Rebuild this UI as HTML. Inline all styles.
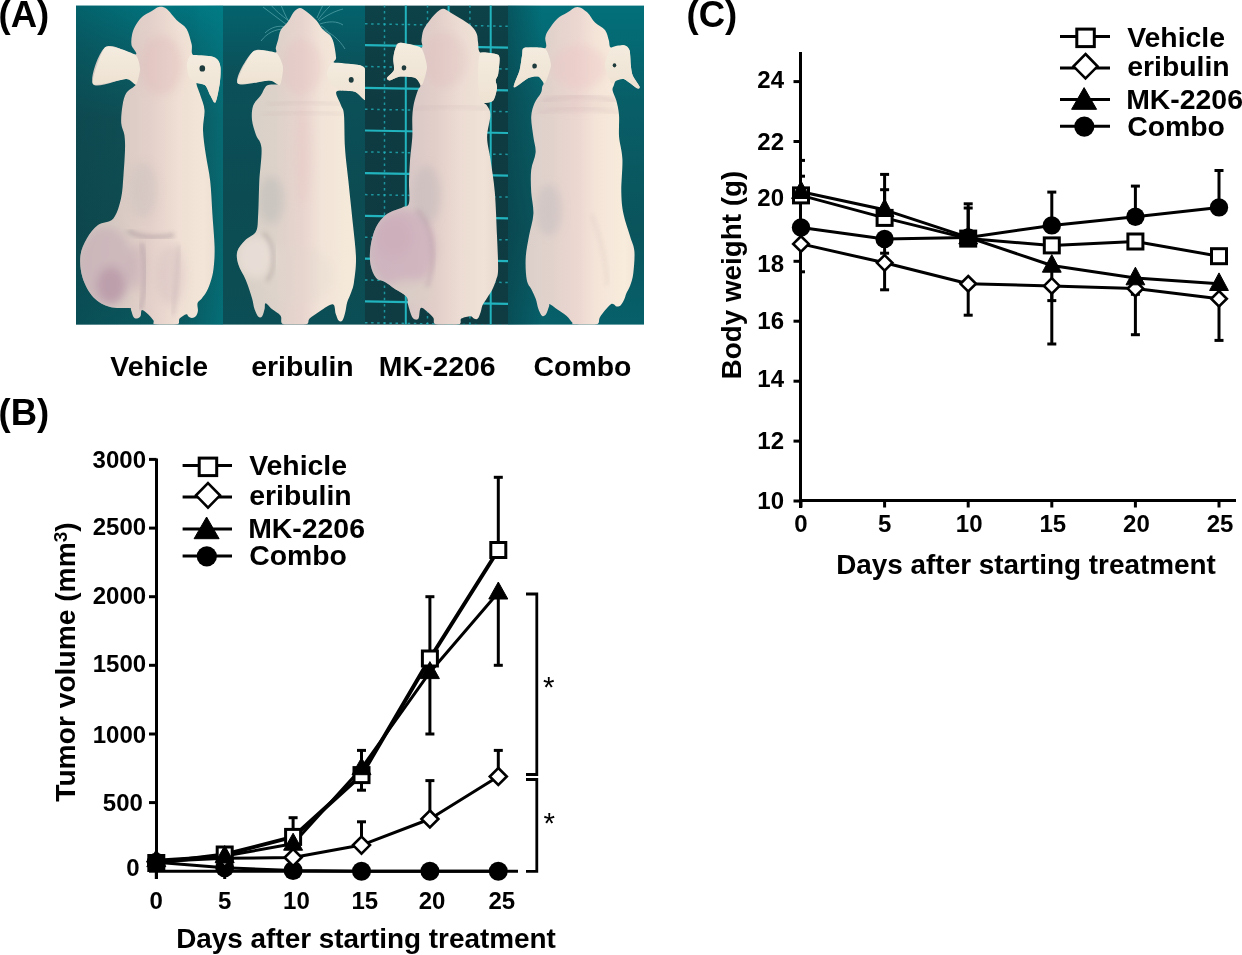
<!DOCTYPE html><html><head><meta charset="utf-8"><style>
html,body{margin:0;padding:0;background:#fff;width:1242px;height:955px;overflow:hidden}svg{display:block}
text{font-family:"Liberation Sans",sans-serif;font-weight:bold;fill:#000}
</style></head><body>
<svg width="1242" height="955" viewBox="0 0 1242 955">
<defs>
<linearGradient id="bg1" x1="0" y1="0" x2="0" y2="1">
 <stop offset="0" stop-color="#007680"/><stop offset="0.12" stop-color="#07656e"/>
 <stop offset="0.35" stop-color="#0f5056"/><stop offset="0.7" stop-color="#0f4d52"/><stop offset="1" stop-color="#09585f"/></linearGradient>
<linearGradient id="hx1" x1="0" y1="0" x2="1" y2="0">
 <stop offset="0" stop-color="#0a3c44" stop-opacity="0.35"/><stop offset="0.6" stop-color="#0a3c44" stop-opacity="0"/>
 <stop offset="0.85" stop-color="#00808a" stop-opacity="0.25"/><stop offset="1" stop-color="#00808a" stop-opacity="0.55"/></linearGradient>
<linearGradient id="bg2" x1="0" y1="0" x2="0" y2="1">
 <stop offset="0" stop-color="#03636d"/><stop offset="0.2" stop-color="#0b515a"/>
 <stop offset="0.6" stop-color="#0c4b52"/><stop offset="1" stop-color="#0c4e55"/></linearGradient>
<linearGradient id="bg3" x1="0" y1="0" x2="0" y2="1">
 <stop offset="0" stop-color="#0c4248"/><stop offset="0.3" stop-color="#0e3b41"/><stop offset="1" stop-color="#0e3c42"/></linearGradient>
<linearGradient id="bg4" x1="0" y1="0" x2="0" y2="1">
 <stop offset="0" stop-color="#02707a"/><stop offset="0.3" stop-color="#085e67"/>
 <stop offset="0.7" stop-color="#0a545c"/><stop offset="1" stop-color="#06606a"/></linearGradient>
<linearGradient id="hx4" x1="0" y1="0" x2="1" y2="0">
 <stop offset="0" stop-color="#0a3c44" stop-opacity="0.5"/><stop offset="0.25" stop-color="#0a3c44" stop-opacity="0"/>
 <stop offset="1" stop-color="#0a3c44" stop-opacity="0"/></linearGradient>
<linearGradient id="skin0" x1="0" y1="0" x2="1" y2="0">
 <stop offset="0" stop-color="#cdc3bd"/><stop offset="0.3" stop-color="#d9cbc4"/><stop offset="0.5" stop-color="#e4d0ca"/><stop offset="0.7" stop-color="#efdfd4"/><stop offset="0.88" stop-color="#f3e6d8"/><stop offset="1" stop-color="#eadbd0"/></linearGradient>
<linearGradient id="skin1" x1="0" y1="0" x2="1" y2="0">
 <stop offset="0" stop-color="#d6d0c6"/><stop offset="0.3" stop-color="#ddd2ca"/><stop offset="0.5" stop-color="#e8d4ce"/><stop offset="0.65" stop-color="#f2e4d8"/><stop offset="0.88" stop-color="#f5eada"/><stop offset="1" stop-color="#ece0d2"/></linearGradient>
<linearGradient id="skin2" x1="0" y1="0" x2="1" y2="0">
 <stop offset="0" stop-color="#cdc3c2"/><stop offset="0.3" stop-color="#d8c8c6"/><stop offset="0.5" stop-color="#e2cec9"/><stop offset="0.7" stop-color="#ecdcd3"/><stop offset="0.88" stop-color="#f0e2d6"/><stop offset="1" stop-color="#e8d8ce"/></linearGradient>
<linearGradient id="skin3" x1="0" y1="0" x2="1" y2="0">
 <stop offset="0" stop-color="#d8cec8"/><stop offset="0.3" stop-color="#e2d2cc"/><stop offset="0.5" stop-color="#ecd6d0"/><stop offset="0.65" stop-color="#f4e4d8"/><stop offset="0.88" stop-color="#f8ecdc"/><stop offset="1" stop-color="#f0e2d6"/></linearGradient>
<filter id="blur1" x="-20%" y="-20%" width="140%" height="140%"><feGaussianBlur stdDeviation="2"/></filter>
<filter id="blur4" x="-20%" y="-20%" width="140%" height="140%"><feGaussianBlur stdDeviation="4"/></filter>
<linearGradient id="ear" x1="0" y1="0" x2="0" y2="1">
 <stop offset="0" stop-color="#f4ecdf"/><stop offset="1" stop-color="#eee2d2"/></linearGradient>
<radialGradient id="tum" cx="0.45" cy="0.55" r="0.55">
 <stop offset="0" stop-color="#c9a7b6"/><stop offset="0.6" stop-color="#d2b6c0"/><stop offset="1" stop-color="#dcc8c8" stop-opacity="0"/></radialGradient>
<radialGradient id="tum2" cx="0.5" cy="0.5" r="0.5">
 <stop offset="0" stop-color="#e8d8d2"/><stop offset="1" stop-color="#e0cec8" stop-opacity="0"/></radialGradient>
</defs>
<defs>
<clipPath id="cp0"><rect x="76" y="5.6" width="147" height="319"/></clipPath>
<clipPath id="cp1"><rect x="223" y="5.6" width="142" height="319"/></clipPath>
<clipPath id="cp2"><rect x="365" y="5.6" width="143" height="319"/></clipPath>
<clipPath id="cp3"><rect x="508" y="5.6" width="136" height="319"/></clipPath>
</defs>
<rect x="76" y="5.6" width="147" height="319" fill="url(#bg1)"/>
<rect x="223" y="5.6" width="142" height="319" fill="url(#bg2)"/>
<rect x="365" y="5.6" width="143" height="319" fill="url(#bg3)"/>
<rect x="508" y="5.6" width="136" height="319" fill="url(#bg4)"/>
<rect x="76" y="5.6" width="147" height="319" fill="url(#hx1)"/>
<rect x="508" y="5.6" width="136" height="319" fill="url(#hx4)"/>
<g clip-path="url(#cp2)"><line x1="384.5" y1="5" x2="384.5" y2="325" stroke="#22b4be" stroke-width="1.5" stroke-dasharray="2.5,3.6" opacity="0.75"/><line x1="405.8" y1="5" x2="405.8" y2="325" stroke="#22b4be" stroke-width="2"/><line x1="427.5" y1="5" x2="427.5" y2="325" stroke="#22b4be" stroke-width="1.5" stroke-dasharray="2.5,3.6" opacity="0.75"/><line x1="448.6" y1="5" x2="448.6" y2="325" stroke="#22b4be" stroke-width="2"/><line x1="469.9" y1="5" x2="469.9" y2="325" stroke="#22b4be" stroke-width="1.5" stroke-dasharray="2.5,3.6" opacity="0.75"/><line x1="490.7" y1="5" x2="490.7" y2="325" stroke="#22b4be" stroke-width="2"/><line x1="365" y1="23.8" x2="508" y2="26.3" stroke="#22b4be" stroke-width="1.5" stroke-dasharray="2.5,3.6" opacity="0.75"/><line x1="365" y1="45.2" x2="508" y2="47.7" stroke="#22b4be" stroke-width="2.2"/><line x1="365" y1="66.5" x2="508" y2="69.0" stroke="#22b4be" stroke-width="1.5" stroke-dasharray="2.5,3.6" opacity="0.75"/><line x1="365" y1="87.8" x2="508" y2="90.3" stroke="#22b4be" stroke-width="2.2"/><line x1="365" y1="109.2" x2="508" y2="111.7" stroke="#22b4be" stroke-width="1.5" stroke-dasharray="2.5,3.6" opacity="0.75"/><line x1="365" y1="130.5" x2="508" y2="133.0" stroke="#22b4be" stroke-width="2.2"/><line x1="365" y1="151.9" x2="508" y2="154.4" stroke="#22b4be" stroke-width="1.5" stroke-dasharray="2.5,3.6" opacity="0.75"/><line x1="365" y1="173.2" x2="508" y2="175.7" stroke="#22b4be" stroke-width="2.2"/><line x1="365" y1="194.6" x2="508" y2="197.1" stroke="#22b4be" stroke-width="1.5" stroke-dasharray="2.5,3.6" opacity="0.75"/><line x1="365" y1="215.9" x2="508" y2="218.4" stroke="#22b4be" stroke-width="2.2"/><line x1="365" y1="237.3" x2="508" y2="239.8" stroke="#22b4be" stroke-width="1.5" stroke-dasharray="2.5,3.6" opacity="0.75"/><line x1="365" y1="258.6" x2="508" y2="261.1" stroke="#22b4be" stroke-width="2.2"/><line x1="365" y1="280.0" x2="508" y2="282.5" stroke="#22b4be" stroke-width="1.5" stroke-dasharray="2.5,3.6" opacity="0.75"/><line x1="365" y1="301.4" x2="508" y2="303.9" stroke="#22b4be" stroke-width="2.2"/><line x1="365" y1="322.7" x2="508" y2="325.2" stroke="#22b4be" stroke-width="1.5" stroke-dasharray="2.5,3.6" opacity="0.75"/></g>
<g clip-path="url(#cp1)"><g transform="translate(223,5)" fill="none" stroke="#8fd3d6" stroke-width="0.8" opacity="0.55"><path d="M66,16 C58,10 52,5 48,0"/><path d="M66,17 C62,10 60,5 58,0"/><path d="M64,20 C56,14 48,8 40,2"/><path d="M62,24 C52,24 44,28 38,36"/><path d="M63,22 C56,20 48,22 42,28"/><path d="M95,15 C100,8 104,4 108,0"/><path d="M96,16 C104,10 112,6 120,4"/><path d="M97,19 C106,16 114,16 120,20"/><path d="M98,21 C104,24 108,30 110,38"/><path d="M94,13 C96,8 98,4 100,0"/><path d="M99,24 C108,28 116,34 122,44"/></g></g>
<g clip-path="url(#cp0)"><clipPath id="mc0"><path d="M158.9,6.9 C161.4,6.5 163.6,6.6 166.5,8.8 C169.4,11.0 173.2,16.6 176.5,20.0 C179.8,23.4 184.1,24.9 186.6,28.9 C189.1,32.9 190.4,39.6 191.6,44.0 C192.8,48.4 190.2,53.2 193.5,55.3 C196.8,57.4 207.6,55.7 211.7,56.5 C215.8,57.3 216.5,58.4 218.0,60.3 C219.5,62.2 220.2,64.0 220.5,67.8 C220.8,71.6 220.7,77.1 219.8,82.9 C219.0,88.7 217.0,100.3 215.4,102.4 C213.8,104.5 212.1,98.3 210.4,95.5 C208.7,92.7 207.7,87.5 205.4,85.4 C203.1,83.3 197.4,81.2 196.6,82.9 C195.8,84.6 199.1,91.0 200.4,95.5 C201.7,100.0 204.1,104.2 204.5,110.0 C204.9,115.8 202.8,122.6 203.0,130.0 C203.2,137.4 204.6,146.1 205.8,154.6 C207.0,163.1 209.1,171.1 210.2,181.0 C211.3,190.9 211.7,203.0 212.4,214.0 C213.1,225.0 214.4,237.8 214.6,247.0 C214.8,256.2 214.2,263.2 213.5,269.0 C212.8,274.8 211.7,278.2 210.5,282.0 C209.3,285.8 208.0,288.9 206.6,291.6 C205.2,294.3 203.3,296.5 201.8,298.4 C200.3,300.3 198.2,300.9 197.6,303.0 C196.9,305.1 198.2,308.8 197.9,311.0 C197.6,313.2 197.0,314.8 196.0,316.0 C195.0,317.2 193.2,317.9 192.0,318.0 C190.8,318.1 189.4,317.1 188.5,316.5 C187.6,315.9 187.8,313.9 186.3,314.3 C184.8,314.7 181.2,316.9 179.6,318.6 C178.0,320.3 180.7,323.6 176.7,324.6 C172.7,325.6 159.3,325.3 155.4,324.6 C151.5,323.9 154.6,322.2 153.5,320.6 C152.4,319.0 150.5,316.6 148.6,314.8 C146.7,313.0 143.3,309.8 142.0,310.0 C140.7,310.2 141.4,314.6 140.6,316.0 C139.8,317.4 138.2,318.2 137.0,318.4 C135.8,318.6 134.5,318.4 133.5,317.0 C132.5,315.6 131.7,311.5 131.0,310.0 C130.3,308.5 132.8,308.5 129.3,308.0 C125.8,307.5 116.0,308.8 110.0,307.0 C104.0,305.2 98.2,302.4 93.6,297.5 C89.0,292.6 84.8,284.6 82.6,277.7 C80.4,270.8 79.7,262.4 80.4,255.8 C81.1,249.2 84.1,243.3 87.0,238.2 C89.9,233.1 93.6,228.3 98.0,225.0 C102.4,221.7 109.6,222.8 113.4,218.4 C117.2,214.0 119.3,205.8 121.0,198.6 C122.7,191.4 122.8,183.1 123.5,175.0 C124.2,166.9 124.8,156.7 125.0,150.0 C125.2,143.3 125.0,139.5 124.4,135.0 C123.8,130.5 121.5,127.9 121.2,123.0 C120.9,118.1 121.7,110.5 122.5,105.5 C123.3,100.5 124.4,96.1 126.3,93.0 C128.2,89.9 132.4,88.2 133.8,86.7 C135.2,85.2 136.2,85.4 135.0,84.1 C133.8,82.8 133.3,79.1 126.3,79.1 C119.3,79.1 96.5,89.4 93.0,84.1 C89.5,78.8 98.5,52.0 105.5,47.1 C112.5,42.2 130.7,55.0 135.0,54.6 C139.3,54.2 132.0,48.3 131.5,45.0 C131.0,41.7 131.4,38.1 132.0,35.0 C132.6,31.9 133.3,29.4 135.0,26.4 C136.7,23.4 139.3,19.5 142.0,17.0 C144.7,14.5 148.6,13.0 151.4,11.3 C154.2,9.6 156.4,7.3 158.9,6.9Z"/></clipPath><path d="M158.9,6.9 C161.4,6.5 163.6,6.6 166.5,8.8 C169.4,11.0 173.2,16.6 176.5,20.0 C179.8,23.4 184.1,24.9 186.6,28.9 C189.1,32.9 190.4,39.6 191.6,44.0 C192.8,48.4 190.2,53.2 193.5,55.3 C196.8,57.4 207.6,55.7 211.7,56.5 C215.8,57.3 216.5,58.4 218.0,60.3 C219.5,62.2 220.2,64.0 220.5,67.8 C220.8,71.6 220.7,77.1 219.8,82.9 C219.0,88.7 217.0,100.3 215.4,102.4 C213.8,104.5 212.1,98.3 210.4,95.5 C208.7,92.7 207.7,87.5 205.4,85.4 C203.1,83.3 197.4,81.2 196.6,82.9 C195.8,84.6 199.1,91.0 200.4,95.5 C201.7,100.0 204.1,104.2 204.5,110.0 C204.9,115.8 202.8,122.6 203.0,130.0 C203.2,137.4 204.6,146.1 205.8,154.6 C207.0,163.1 209.1,171.1 210.2,181.0 C211.3,190.9 211.7,203.0 212.4,214.0 C213.1,225.0 214.4,237.8 214.6,247.0 C214.8,256.2 214.2,263.2 213.5,269.0 C212.8,274.8 211.7,278.2 210.5,282.0 C209.3,285.8 208.0,288.9 206.6,291.6 C205.2,294.3 203.3,296.5 201.8,298.4 C200.3,300.3 198.2,300.9 197.6,303.0 C196.9,305.1 198.2,308.8 197.9,311.0 C197.6,313.2 197.0,314.8 196.0,316.0 C195.0,317.2 193.2,317.9 192.0,318.0 C190.8,318.1 189.4,317.1 188.5,316.5 C187.6,315.9 187.8,313.9 186.3,314.3 C184.8,314.7 181.2,316.9 179.6,318.6 C178.0,320.3 180.7,323.6 176.7,324.6 C172.7,325.6 159.3,325.3 155.4,324.6 C151.5,323.9 154.6,322.2 153.5,320.6 C152.4,319.0 150.5,316.6 148.6,314.8 C146.7,313.0 143.3,309.8 142.0,310.0 C140.7,310.2 141.4,314.6 140.6,316.0 C139.8,317.4 138.2,318.2 137.0,318.4 C135.8,318.6 134.5,318.4 133.5,317.0 C132.5,315.6 131.7,311.5 131.0,310.0 C130.3,308.5 132.8,308.5 129.3,308.0 C125.8,307.5 116.0,308.8 110.0,307.0 C104.0,305.2 98.2,302.4 93.6,297.5 C89.0,292.6 84.8,284.6 82.6,277.7 C80.4,270.8 79.7,262.4 80.4,255.8 C81.1,249.2 84.1,243.3 87.0,238.2 C89.9,233.1 93.6,228.3 98.0,225.0 C102.4,221.7 109.6,222.8 113.4,218.4 C117.2,214.0 119.3,205.8 121.0,198.6 C122.7,191.4 122.8,183.1 123.5,175.0 C124.2,166.9 124.8,156.7 125.0,150.0 C125.2,143.3 125.0,139.5 124.4,135.0 C123.8,130.5 121.5,127.9 121.2,123.0 C120.9,118.1 121.7,110.5 122.5,105.5 C123.3,100.5 124.4,96.1 126.3,93.0 C128.2,89.9 132.4,88.2 133.8,86.7 C135.2,85.2 136.2,85.4 135.0,84.1 C133.8,82.8 133.3,79.1 126.3,79.1 C119.3,79.1 96.5,89.4 93.0,84.1 C89.5,78.8 98.5,52.0 105.5,47.1 C112.5,42.2 130.7,55.0 135.0,54.6 C139.3,54.2 132.0,48.3 131.5,45.0 C131.0,41.7 131.4,38.1 132.0,35.0 C132.6,31.9 133.3,29.4 135.0,26.4 C136.7,23.4 139.3,19.5 142.0,17.0 C144.7,14.5 148.6,13.0 151.4,11.3 C154.2,9.6 156.4,7.3 158.9,6.9Z" fill="url(#skin0)"/><g clip-path="url(#mc0)"><g filter="url(#blur4)"><ellipse cx="144.0" cy="190.0" rx="14.0" ry="28.0" fill="#b0b2b2" opacity="0.22"/><ellipse cx="161.0" cy="65.0" rx="22.0" ry="30.0" fill="#e0b8b8" opacity="0.35"/><ellipse cx="106.0" cy="267.0" rx="28.0" ry="40.0" fill="#c9b1ba" opacity="0.75"/><ellipse cx="111.0" cy="285.0" rx="14.0" ry="18.0" fill="#a88098" opacity="0.45"/><ellipse cx="138.0" cy="267.0" rx="8.0" ry="24.0" fill="#b99aa8" opacity="0.30"/><ellipse cx="171.0" cy="275.0" rx="14.0" ry="30.0" fill="#c4a9b2" opacity="0.25"/></g><path d="M52,226 C62,232 80,234 98,230" transform="translate(76,5)" fill="none" stroke="#9c8c94" stroke-width="4.0" opacity="0.48" filter="url(#blur1)"/><path d="M66,238 C70,260 70,285 64,305" transform="translate(76,5)" fill="none" stroke="#a08c98" stroke-width="4.0" opacity="0.40" filter="url(#blur1)"/><path d="M103,240 C101,265 100,290 97,310" transform="translate(76,5)" fill="none" stroke="#b8a4ac" stroke-width="3.6" opacity="0.32" filter="url(#blur1)"/></g><path d="M135.0,54.6 C131.6,52.4 109.7,44.2 105.5,47.1 C101.3,50.0 90.9,80.9 93.0,84.1 C95.1,87.3 122.0,79.1 126.3,79.1 C130.6,79.1 134.6,85.5 136.0,84.5 C137.4,83.5 140.1,72.0 140.0,69.0 C139.9,66.0 138.4,56.8 135.0,54.6Z" fill="url(#ear)"/><path d="M191.0,55.3 C193.5,54.4 209.0,56.0 211.7,56.5 C214.4,57.0 217.1,59.2 218.0,60.3 C218.9,61.4 220.3,65.5 220.5,67.8 C220.7,70.1 220.3,79.4 219.8,82.9 C219.3,86.4 216.3,101.1 215.4,102.4 C214.5,103.7 211.4,97.2 210.4,95.5 C209.4,93.8 206.8,86.7 205.4,85.4 C204.0,84.1 198.2,83.7 196.6,82.9 C195.0,82.1 190.0,78.8 189.0,77.0 C188.0,75.2 186.8,67.2 187.0,65.0 C187.2,62.8 188.5,56.1 191.0,55.3Z" fill="url(#ear)"/><ellipse cx="202.3" cy="68.4" rx="2.8" ry="3.2" fill="#1d3a3c"/></g>
<g clip-path="url(#cp1)"><clipPath id="mc1"><path d="M299.7,8.1 C301.8,7.9 303.3,9.3 306.0,11.3 C308.7,13.3 313.3,17.2 316.0,20.1 C318.7,23.0 320.0,26.4 322.3,28.9 C324.6,31.4 327.9,32.9 329.8,35.2 C331.7,37.5 332.6,38.9 333.6,42.7 C334.7,46.5 335.9,54.4 336.1,57.8 C336.3,61.2 331.0,61.8 335.0,63.0 C339.0,64.2 354.8,63.9 360.0,65.3 C365.2,66.7 364.8,68.3 366.0,71.6 C367.2,74.9 366.8,80.3 367.0,85.0 C367.2,89.7 367.6,97.6 367.0,100.0 C366.4,102.4 365.7,100.6 363.7,99.2 C361.7,97.8 358.8,93.2 355.0,91.7 C351.2,90.2 344.2,90.2 341.1,90.4 C338.0,90.6 336.1,90.5 336.1,93.0 C336.1,95.5 339.8,101.8 341.1,105.5 C342.4,109.2 343.4,107.9 344.0,115.0 C344.6,122.1 344.3,137.0 345.0,148.0 C345.7,159.0 347.1,168.2 348.4,181.0 C349.7,193.8 351.7,212.2 353.0,225.0 C354.3,237.8 355.8,248.5 356.0,258.0 C356.2,267.5 354.8,276.2 354.0,282.0 C353.2,287.8 352.2,289.2 351.1,292.6 C350.0,296.0 348.2,299.0 347.2,302.2 C346.2,305.4 346.1,308.9 345.3,312.0 C344.5,315.1 343.5,319.2 342.4,320.6 C341.3,322.0 339.7,321.7 338.6,320.6 C337.5,319.5 336.7,316.5 335.7,313.8 C334.7,311.1 335.4,304.7 332.8,304.2 C330.2,303.7 324.1,308.5 320.2,310.9 C316.3,313.3 312.0,316.3 309.6,318.6 C307.2,320.9 310.1,323.6 305.7,324.6 C301.3,325.6 287.7,326.1 283.5,324.6 C279.3,323.1 282.5,318.3 280.6,315.7 C278.7,313.1 274.4,311.1 271.9,309.0 C269.4,306.9 266.8,303.2 265.6,303.2 C264.4,303.2 265.2,306.8 264.6,309.0 C264.0,311.2 263.2,314.9 262.2,316.2 C261.2,317.5 259.7,317.9 258.4,316.7 C257.1,315.5 255.6,312.1 254.5,309.0 C253.4,305.9 253.5,303.2 252.1,298.4 C250.7,293.6 248.1,285.6 245.8,280.0 C243.5,274.4 239.8,269.4 238.4,264.6 C237.0,259.8 236.2,255.4 237.3,251.4 C238.4,247.4 241.9,243.7 245.0,240.4 C248.1,237.1 253.8,236.0 256.0,231.6 C258.2,227.2 257.6,222.4 258.2,214.0 C258.8,205.6 258.8,192.0 259.3,181.0 C259.9,170.0 262.1,155.7 261.5,148.0 C260.9,140.3 257.6,139.7 256.0,135.0 C254.4,130.3 252.5,124.9 252.0,120.0 C251.5,115.1 251.8,109.6 253.2,105.5 C254.6,101.4 258.4,98.8 260.7,95.5 C263.0,92.2 264.1,87.3 267.0,85.4 C269.9,83.5 277.9,85.0 278.3,84.2 C278.7,83.4 276.3,80.6 269.5,80.4 C262.7,80.2 240.2,87.7 237.5,82.9 C234.8,78.1 247.0,56.5 253.2,51.5 C259.4,46.5 270.7,53.4 274.5,52.8 C278.3,52.2 275.2,50.0 275.8,47.7 C276.4,45.4 277.5,41.8 278.3,38.9 C279.1,36.0 279.1,33.0 280.8,30.1 C282.5,27.2 286.2,24.2 288.3,21.3 C290.4,18.4 291.5,14.7 293.4,12.5 C295.3,10.3 297.6,8.3 299.7,8.1Z"/></clipPath><path d="M299.7,8.1 C301.8,7.9 303.3,9.3 306.0,11.3 C308.7,13.3 313.3,17.2 316.0,20.1 C318.7,23.0 320.0,26.4 322.3,28.9 C324.6,31.4 327.9,32.9 329.8,35.2 C331.7,37.5 332.6,38.9 333.6,42.7 C334.7,46.5 335.9,54.4 336.1,57.8 C336.3,61.2 331.0,61.8 335.0,63.0 C339.0,64.2 354.8,63.9 360.0,65.3 C365.2,66.7 364.8,68.3 366.0,71.6 C367.2,74.9 366.8,80.3 367.0,85.0 C367.2,89.7 367.6,97.6 367.0,100.0 C366.4,102.4 365.7,100.6 363.7,99.2 C361.7,97.8 358.8,93.2 355.0,91.7 C351.2,90.2 344.2,90.2 341.1,90.4 C338.0,90.6 336.1,90.5 336.1,93.0 C336.1,95.5 339.8,101.8 341.1,105.5 C342.4,109.2 343.4,107.9 344.0,115.0 C344.6,122.1 344.3,137.0 345.0,148.0 C345.7,159.0 347.1,168.2 348.4,181.0 C349.7,193.8 351.7,212.2 353.0,225.0 C354.3,237.8 355.8,248.5 356.0,258.0 C356.2,267.5 354.8,276.2 354.0,282.0 C353.2,287.8 352.2,289.2 351.1,292.6 C350.0,296.0 348.2,299.0 347.2,302.2 C346.2,305.4 346.1,308.9 345.3,312.0 C344.5,315.1 343.5,319.2 342.4,320.6 C341.3,322.0 339.7,321.7 338.6,320.6 C337.5,319.5 336.7,316.5 335.7,313.8 C334.7,311.1 335.4,304.7 332.8,304.2 C330.2,303.7 324.1,308.5 320.2,310.9 C316.3,313.3 312.0,316.3 309.6,318.6 C307.2,320.9 310.1,323.6 305.7,324.6 C301.3,325.6 287.7,326.1 283.5,324.6 C279.3,323.1 282.5,318.3 280.6,315.7 C278.7,313.1 274.4,311.1 271.9,309.0 C269.4,306.9 266.8,303.2 265.6,303.2 C264.4,303.2 265.2,306.8 264.6,309.0 C264.0,311.2 263.2,314.9 262.2,316.2 C261.2,317.5 259.7,317.9 258.4,316.7 C257.1,315.5 255.6,312.1 254.5,309.0 C253.4,305.9 253.5,303.2 252.1,298.4 C250.7,293.6 248.1,285.6 245.8,280.0 C243.5,274.4 239.8,269.4 238.4,264.6 C237.0,259.8 236.2,255.4 237.3,251.4 C238.4,247.4 241.9,243.7 245.0,240.4 C248.1,237.1 253.8,236.0 256.0,231.6 C258.2,227.2 257.6,222.4 258.2,214.0 C258.8,205.6 258.8,192.0 259.3,181.0 C259.9,170.0 262.1,155.7 261.5,148.0 C260.9,140.3 257.6,139.7 256.0,135.0 C254.4,130.3 252.5,124.9 252.0,120.0 C251.5,115.1 251.8,109.6 253.2,105.5 C254.6,101.4 258.4,98.8 260.7,95.5 C263.0,92.2 264.1,87.3 267.0,85.4 C269.9,83.5 277.9,85.0 278.3,84.2 C278.7,83.4 276.3,80.6 269.5,80.4 C262.7,80.2 240.2,87.7 237.5,82.9 C234.8,78.1 247.0,56.5 253.2,51.5 C259.4,46.5 270.7,53.4 274.5,52.8 C278.3,52.2 275.2,50.0 275.8,47.7 C276.4,45.4 277.5,41.8 278.3,38.9 C279.1,36.0 279.1,33.0 280.8,30.1 C282.5,27.2 286.2,24.2 288.3,21.3 C290.4,18.4 291.5,14.7 293.4,12.5 C295.3,10.3 297.6,8.3 299.7,8.1Z" fill="url(#skin1)"/><g clip-path="url(#mc1)"><g filter="url(#blur4)"><ellipse cx="271.0" cy="200.0" rx="13.0" ry="24.0" fill="#a4aaa8" opacity="0.30"/><ellipse cx="303.0" cy="155.0" rx="8.0" ry="50.0" fill="#e8c4c0" opacity="0.30"/><ellipse cx="301.0" cy="67.0" rx="22.0" ry="28.0" fill="#e4c0c0" opacity="0.35"/><ellipse cx="256.0" cy="257.0" rx="19.0" ry="21.0" fill="#ece0da" opacity="0.80"/><ellipse cx="298.0" cy="275.0" rx="35.0" ry="30.0" fill="#e0d6cc" opacity="0.30"/></g><path d="M40,228 C52,236 54,262 44,276" transform="translate(223,5)" fill="none" stroke="#a89c98" stroke-width="4.0" opacity="0.44" filter="url(#blur1)"/><path d="M45,100 C70,96 95,96 118,100" transform="translate(223,5)" fill="none" stroke="#c8b0b0" stroke-width="2.7" opacity="0.28" filter="url(#blur1)"/><path d="M40,110 C70,106 95,106 120,110" transform="translate(223,5)" fill="none" stroke="#c8b0b0" stroke-width="2.7" opacity="0.24" filter="url(#blur1)"/></g><path d="M276.0,52.8 C273.0,51.2 257.1,48.5 253.2,51.5 C249.3,54.5 235.9,80.0 237.5,82.9 C239.1,85.8 265.2,80.2 269.5,80.4 C273.8,80.6 278.6,86.3 280.0,85.0 C281.4,83.7 283.4,70.2 283.0,67.0 C282.6,63.8 279.0,54.3 276.0,52.8Z" fill="url(#ear)"/><path d="M333.0,62.8 C336.3,62.0 356.7,64.4 360.0,65.3 C363.3,66.2 365.3,69.6 366.0,71.6 C366.7,73.6 366.9,82.2 367.0,85.0 C367.1,87.8 367.3,98.6 367.0,100.0 C366.7,101.4 364.9,100.0 363.7,99.2 C362.5,98.4 357.3,92.6 355.0,91.7 C352.7,90.8 343.5,91.1 341.1,90.4 C338.7,89.7 332.4,86.7 331.0,85.0 C329.6,83.3 326.8,75.2 327.0,73.0 C327.2,70.8 329.7,63.6 333.0,62.8Z" fill="url(#ear)"/><ellipse cx="351.2" cy="79.8" rx="2.5" ry="2.9" fill="#1d3a3c"/></g>
<g clip-path="url(#cp2)"><clipPath id="mc2"><path d="M442.9,8.8 C445.4,8.6 447.0,10.6 450.4,12.5 C453.8,14.4 459.4,17.8 463.0,20.1 C466.6,22.4 469.5,24.1 471.8,26.4 C474.1,28.7 475.8,31.2 476.8,33.9 C477.9,36.6 477.5,39.6 478.1,42.7 C478.7,45.9 477.7,50.9 480.6,52.8 C483.5,54.7 492.6,53.2 495.7,54.0 C498.8,54.8 499.1,54.4 499.5,57.8 C499.9,61.1 498.8,70.3 498.2,74.1 C497.6,77.9 495.9,78.1 495.7,80.4 C495.5,82.7 497.4,84.6 497.0,87.9 C496.6,91.2 495.3,98.0 493.2,100.5 C491.1,103.0 485.4,102.2 484.4,103.0 C483.3,103.8 485.9,103.5 486.9,105.5 C487.9,107.5 490.4,109.8 490.4,115.0 C490.4,120.2 487.1,129.7 487.1,137.0 C487.1,144.3 489.1,149.8 490.4,159.0 C491.7,168.2 493.7,179.2 494.8,192.0 C495.9,204.8 496.4,223.2 497.0,236.0 C497.6,248.8 498.2,261.7 498.1,269.0 C498.0,276.3 497.1,276.6 496.1,280.0 C495.1,283.4 493.6,286.8 492.2,289.7 C490.8,292.6 489.0,294.8 487.4,297.4 C485.8,300.0 483.7,302.7 482.6,305.1 C481.5,307.5 481.5,309.8 480.7,312.0 C479.9,314.2 478.9,317.5 477.8,318.6 C476.7,319.7 475.1,319.0 473.9,318.6 C472.7,318.2 472.6,316.2 470.5,316.2 C468.4,316.2 463.3,317.2 461.3,318.6 C459.3,320.0 462.6,323.6 458.4,324.6 C454.2,325.6 440.4,325.8 436.2,324.6 C432.0,323.5 434.9,320.0 433.3,317.7 C431.7,315.4 428.6,312.5 426.5,310.9 C424.4,309.3 422.0,306.9 420.7,308.0 C419.4,309.1 419.6,315.8 418.8,317.7 C418.0,319.6 417.0,319.8 415.9,319.6 C414.8,319.4 413.3,319.1 412.0,316.7 C410.7,314.3 409.1,308.5 408.2,305.1 C407.2,301.7 408.6,299.1 406.3,296.4 C404.1,293.7 398.2,291.1 394.7,288.7 C391.1,286.3 388.1,283.8 385.0,282.0 C381.9,280.2 378.4,280.7 376.0,277.8 C373.6,274.9 371.4,269.7 370.5,264.6 C369.6,259.5 369.6,253.2 370.5,247.0 C371.4,240.8 373.2,232.7 376.0,227.2 C378.8,221.7 382.6,217.3 387.0,214.0 C391.4,210.7 398.7,209.2 402.4,207.4 C406.1,205.6 407.9,207.4 409.0,203.0 C410.1,198.6 408.8,188.3 409.0,181.0 C409.2,173.7 409.6,166.3 410.1,159.0 C410.7,151.7 411.9,144.0 412.3,137.0 C412.7,130.0 412.0,122.7 412.3,117.0 C412.6,111.3 413.1,107.4 414.0,103.0 C414.9,98.6 416.8,93.3 417.8,90.4 C418.9,87.5 420.7,87.5 420.3,85.4 C419.9,83.3 418.7,79.4 415.3,77.9 C411.9,76.4 404.4,76.2 400.2,76.6 C396.0,77.0 392.3,80.2 390.1,80.4 C387.9,80.6 386.4,79.6 387.0,77.9 C387.6,76.2 392.8,73.5 393.9,70.3 C394.9,67.1 393.1,62.5 393.3,59.0 C393.5,55.5 394.1,51.7 395.2,49.0 C396.3,46.3 395.9,42.9 400.2,42.7 C404.5,42.5 417.3,48.1 420.9,47.7 C424.4,47.3 421.1,43.1 421.5,40.2 C421.9,37.3 422.1,33.2 423.4,30.1 C424.7,27.0 427.1,24.0 429.1,21.3 C431.1,18.6 433.1,15.9 435.4,13.8 C437.7,11.7 440.4,9.0 442.9,8.8Z"/></clipPath><path d="M442.9,8.8 C445.4,8.6 447.0,10.6 450.4,12.5 C453.8,14.4 459.4,17.8 463.0,20.1 C466.6,22.4 469.5,24.1 471.8,26.4 C474.1,28.7 475.8,31.2 476.8,33.9 C477.9,36.6 477.5,39.6 478.1,42.7 C478.7,45.9 477.7,50.9 480.6,52.8 C483.5,54.7 492.6,53.2 495.7,54.0 C498.8,54.8 499.1,54.4 499.5,57.8 C499.9,61.1 498.8,70.3 498.2,74.1 C497.6,77.9 495.9,78.1 495.7,80.4 C495.5,82.7 497.4,84.6 497.0,87.9 C496.6,91.2 495.3,98.0 493.2,100.5 C491.1,103.0 485.4,102.2 484.4,103.0 C483.3,103.8 485.9,103.5 486.9,105.5 C487.9,107.5 490.4,109.8 490.4,115.0 C490.4,120.2 487.1,129.7 487.1,137.0 C487.1,144.3 489.1,149.8 490.4,159.0 C491.7,168.2 493.7,179.2 494.8,192.0 C495.9,204.8 496.4,223.2 497.0,236.0 C497.6,248.8 498.2,261.7 498.1,269.0 C498.0,276.3 497.1,276.6 496.1,280.0 C495.1,283.4 493.6,286.8 492.2,289.7 C490.8,292.6 489.0,294.8 487.4,297.4 C485.8,300.0 483.7,302.7 482.6,305.1 C481.5,307.5 481.5,309.8 480.7,312.0 C479.9,314.2 478.9,317.5 477.8,318.6 C476.7,319.7 475.1,319.0 473.9,318.6 C472.7,318.2 472.6,316.2 470.5,316.2 C468.4,316.2 463.3,317.2 461.3,318.6 C459.3,320.0 462.6,323.6 458.4,324.6 C454.2,325.6 440.4,325.8 436.2,324.6 C432.0,323.5 434.9,320.0 433.3,317.7 C431.7,315.4 428.6,312.5 426.5,310.9 C424.4,309.3 422.0,306.9 420.7,308.0 C419.4,309.1 419.6,315.8 418.8,317.7 C418.0,319.6 417.0,319.8 415.9,319.6 C414.8,319.4 413.3,319.1 412.0,316.7 C410.7,314.3 409.1,308.5 408.2,305.1 C407.2,301.7 408.6,299.1 406.3,296.4 C404.1,293.7 398.2,291.1 394.7,288.7 C391.1,286.3 388.1,283.8 385.0,282.0 C381.9,280.2 378.4,280.7 376.0,277.8 C373.6,274.9 371.4,269.7 370.5,264.6 C369.6,259.5 369.6,253.2 370.5,247.0 C371.4,240.8 373.2,232.7 376.0,227.2 C378.8,221.7 382.6,217.3 387.0,214.0 C391.4,210.7 398.7,209.2 402.4,207.4 C406.1,205.6 407.9,207.4 409.0,203.0 C410.1,198.6 408.8,188.3 409.0,181.0 C409.2,173.7 409.6,166.3 410.1,159.0 C410.7,151.7 411.9,144.0 412.3,137.0 C412.7,130.0 412.0,122.7 412.3,117.0 C412.6,111.3 413.1,107.4 414.0,103.0 C414.9,98.6 416.8,93.3 417.8,90.4 C418.9,87.5 420.7,87.5 420.3,85.4 C419.9,83.3 418.7,79.4 415.3,77.9 C411.9,76.4 404.4,76.2 400.2,76.6 C396.0,77.0 392.3,80.2 390.1,80.4 C387.9,80.6 386.4,79.6 387.0,77.9 C387.6,76.2 392.8,73.5 393.9,70.3 C394.9,67.1 393.1,62.5 393.3,59.0 C393.5,55.5 394.1,51.7 395.2,49.0 C396.3,46.3 395.9,42.9 400.2,42.7 C404.5,42.5 417.3,48.1 420.9,47.7 C424.4,47.3 421.1,43.1 421.5,40.2 C421.9,37.3 422.1,33.2 423.4,30.1 C424.7,27.0 427.1,24.0 429.1,21.3 C431.1,18.6 433.1,15.9 435.4,13.8 C437.7,11.7 440.4,9.0 442.9,8.8Z" fill="url(#skin2)"/><g clip-path="url(#mc2)"><g filter="url(#blur4)"><ellipse cx="427.0" cy="195.0" rx="14.0" ry="30.0" fill="#aca8ae" opacity="0.30"/><ellipse cx="445.0" cy="60.0" rx="22.0" ry="28.0" fill="#e0bcbc" opacity="0.35"/><ellipse cx="402.0" cy="249.0" rx="33.0" ry="40.0" fill="#cdb0bc" opacity="0.78"/><ellipse cx="395.0" cy="237.0" rx="18.0" ry="20.0" fill="#c8a2b4" opacity="0.35"/><ellipse cx="410.0" cy="291.0" rx="24.0" ry="12.0" fill="#dcd0c6" opacity="0.65"/></g><path d="M52,205 C68,220 72,255 62,282" transform="translate(365,5)" fill="none" stroke="#b49aa6" stroke-width="4.0" opacity="0.40" filter="url(#blur1)"/><path d="M45,105 C70,100 95,100 122,104" transform="translate(365,5)" fill="none" stroke="#c6aeb0" stroke-width="2.7" opacity="0.28" filter="url(#blur1)"/></g><path d="M421.0,47.7 C418.3,45.3 402.8,42.6 400.2,42.7 C397.6,42.8 395.9,47.4 395.2,49.0 C394.5,50.6 393.4,56.9 393.3,59.0 C393.2,61.1 394.5,68.4 393.9,70.3 C393.3,72.2 387.4,76.9 387.0,77.9 C386.6,78.9 388.8,80.5 390.1,80.4 C391.4,80.3 397.7,76.8 400.2,76.6 C402.7,76.3 413.1,77.1 415.3,77.9 C417.5,78.7 420.8,86.1 422.0,85.0 C423.2,83.9 427.1,70.7 427.0,67.0 C426.9,63.3 423.7,50.1 421.0,47.7Z" fill="url(#ear)"/><path d="M480.6,52.8 C482.4,51.2 493.8,53.5 495.7,54.0 C497.6,54.5 499.2,55.8 499.5,57.8 C499.8,59.8 498.6,71.8 498.2,74.1 C497.8,76.4 495.8,79.0 495.7,80.4 C495.6,81.8 497.2,85.9 497.0,87.9 C496.8,89.9 494.5,99.0 493.2,100.5 C491.9,102.0 485.8,103.5 484.4,103.0 C483.0,102.5 479.6,98.3 479.0,95.0 C478.4,91.7 477.8,74.2 478.0,70.0 C478.2,65.8 478.8,54.4 480.6,52.8Z" fill="url(#ear)"/><ellipse cx="404.0" cy="67.8" rx="2.3" ry="2.6" fill="#1d3a3c"/></g>
<g clip-path="url(#cp3)"><clipPath id="mc3"><path d="M577.4,6.9 C580.8,6.9 584.5,9.9 587.4,12.5 C590.3,15.1 592.1,19.7 595.0,22.6 C597.9,25.5 602.7,27.2 605.0,30.1 C607.3,33.0 607.8,37.3 608.8,40.2 C609.8,43.1 608.8,46.9 611.3,47.7 C613.8,48.5 620.9,44.8 623.9,45.2 C626.9,45.6 628.4,46.9 629.5,50.2 C630.6,53.6 630.3,61.1 630.8,65.3 C631.3,69.5 631.2,71.8 632.7,75.4 C634.2,79.0 639.0,84.6 639.6,86.7 C640.2,88.8 639.0,89.2 636.4,87.9 C633.8,86.6 627.2,80.3 623.9,79.1 C620.5,77.8 618.0,79.4 616.3,80.4 C614.6,81.5 614.4,83.7 613.8,85.4 C613.2,87.1 612.2,87.9 612.6,90.4 C613.0,92.9 615.2,96.4 616.3,100.5 C617.4,104.6 618.5,108.9 619.0,115.0 C619.5,121.1 618.5,129.7 619.1,137.0 C619.7,144.3 622.0,149.8 622.4,158.9 C622.8,168.1 621.1,182.7 621.3,191.9 C621.5,201.1 622.0,206.6 623.5,213.9 C625.0,221.2 628.2,229.7 630.0,235.9 C631.8,242.1 633.9,245.0 634.4,251.2 C634.9,257.4 634.0,267.4 633.3,273.2 C632.6,279.0 631.3,282.4 630.1,285.8 C628.9,289.2 627.3,291.2 626.3,293.5 C625.3,295.8 625.3,297.3 624.3,299.3 C623.3,301.3 621.8,304.3 620.5,305.5 C619.2,306.7 617.7,306.7 616.6,306.5 C615.5,306.3 614.8,304.4 613.7,304.2 C612.6,304.0 612.1,303.0 609.9,305.1 C607.6,307.2 602.5,313.4 600.2,316.7 C597.9,319.9 600.6,323.3 596.3,324.6 C591.9,325.9 578.1,325.0 574.1,324.6 C570.1,324.2 573.5,324.0 572.2,322.5 C570.9,321.0 569.0,317.9 566.4,315.7 C563.8,313.4 559.4,310.9 556.7,309.0 C554.0,307.1 551.3,304.6 550.0,304.2 C548.7,303.8 549.6,304.9 549.0,306.5 C548.4,308.1 547.2,312.4 546.1,314.0 C545.0,315.6 543.5,316.8 542.2,316.0 C540.9,315.2 539.5,311.8 538.4,309.0 C537.3,306.2 537.0,302.5 535.9,299.3 C534.8,296.1 533.1,292.9 531.6,289.7 C530.1,286.5 527.8,285.3 526.8,280.0 C525.8,274.7 525.3,265.1 525.7,257.8 C526.1,250.5 527.7,243.3 529.0,236.0 C530.3,228.7 533.0,221.3 533.4,214.0 C533.8,206.7 531.6,199.3 531.2,192.0 C530.8,184.7 530.5,176.6 531.2,170.0 C531.9,163.4 535.2,157.9 535.6,152.4 C536.0,146.9 534.1,142.9 533.4,137.0 C532.7,131.1 531.0,122.7 531.2,117.0 C531.4,111.3 533.0,107.0 534.6,103.0 C536.2,99.0 539.6,95.7 540.9,93.0 C542.2,90.3 541.8,88.4 542.2,86.7 C542.6,85.0 544.0,84.6 543.4,82.9 C542.8,81.2 540.9,77.4 538.4,76.6 C535.9,75.8 532.5,76.1 528.4,77.9 C524.3,79.7 515.4,88.6 513.9,87.3 C512.4,86.0 518.2,75.6 519.6,70.3 C521.0,65.0 521.3,59.1 522.1,55.3 C522.9,51.5 520.8,48.9 524.6,47.7 C528.4,46.6 541.2,50.1 544.7,48.4 C548.2,46.7 544.7,40.8 545.3,37.7 C545.9,34.7 546.5,33.2 548.5,30.1 C550.5,27.0 554.2,21.7 557.3,18.8 C560.4,15.9 563.9,14.5 567.3,12.5 C570.6,10.5 574.0,6.9 577.4,6.9Z"/></clipPath><path d="M577.4,6.9 C580.8,6.9 584.5,9.9 587.4,12.5 C590.3,15.1 592.1,19.7 595.0,22.6 C597.9,25.5 602.7,27.2 605.0,30.1 C607.3,33.0 607.8,37.3 608.8,40.2 C609.8,43.1 608.8,46.9 611.3,47.7 C613.8,48.5 620.9,44.8 623.9,45.2 C626.9,45.6 628.4,46.9 629.5,50.2 C630.6,53.6 630.3,61.1 630.8,65.3 C631.3,69.5 631.2,71.8 632.7,75.4 C634.2,79.0 639.0,84.6 639.6,86.7 C640.2,88.8 639.0,89.2 636.4,87.9 C633.8,86.6 627.2,80.3 623.9,79.1 C620.5,77.8 618.0,79.4 616.3,80.4 C614.6,81.5 614.4,83.7 613.8,85.4 C613.2,87.1 612.2,87.9 612.6,90.4 C613.0,92.9 615.2,96.4 616.3,100.5 C617.4,104.6 618.5,108.9 619.0,115.0 C619.5,121.1 618.5,129.7 619.1,137.0 C619.7,144.3 622.0,149.8 622.4,158.9 C622.8,168.1 621.1,182.7 621.3,191.9 C621.5,201.1 622.0,206.6 623.5,213.9 C625.0,221.2 628.2,229.7 630.0,235.9 C631.8,242.1 633.9,245.0 634.4,251.2 C634.9,257.4 634.0,267.4 633.3,273.2 C632.6,279.0 631.3,282.4 630.1,285.8 C628.9,289.2 627.3,291.2 626.3,293.5 C625.3,295.8 625.3,297.3 624.3,299.3 C623.3,301.3 621.8,304.3 620.5,305.5 C619.2,306.7 617.7,306.7 616.6,306.5 C615.5,306.3 614.8,304.4 613.7,304.2 C612.6,304.0 612.1,303.0 609.9,305.1 C607.6,307.2 602.5,313.4 600.2,316.7 C597.9,319.9 600.6,323.3 596.3,324.6 C591.9,325.9 578.1,325.0 574.1,324.6 C570.1,324.2 573.5,324.0 572.2,322.5 C570.9,321.0 569.0,317.9 566.4,315.7 C563.8,313.4 559.4,310.9 556.7,309.0 C554.0,307.1 551.3,304.6 550.0,304.2 C548.7,303.8 549.6,304.9 549.0,306.5 C548.4,308.1 547.2,312.4 546.1,314.0 C545.0,315.6 543.5,316.8 542.2,316.0 C540.9,315.2 539.5,311.8 538.4,309.0 C537.3,306.2 537.0,302.5 535.9,299.3 C534.8,296.1 533.1,292.9 531.6,289.7 C530.1,286.5 527.8,285.3 526.8,280.0 C525.8,274.7 525.3,265.1 525.7,257.8 C526.1,250.5 527.7,243.3 529.0,236.0 C530.3,228.7 533.0,221.3 533.4,214.0 C533.8,206.7 531.6,199.3 531.2,192.0 C530.8,184.7 530.5,176.6 531.2,170.0 C531.9,163.4 535.2,157.9 535.6,152.4 C536.0,146.9 534.1,142.9 533.4,137.0 C532.7,131.1 531.0,122.7 531.2,117.0 C531.4,111.3 533.0,107.0 534.6,103.0 C536.2,99.0 539.6,95.7 540.9,93.0 C542.2,90.3 541.8,88.4 542.2,86.7 C542.6,85.0 544.0,84.6 543.4,82.9 C542.8,81.2 540.9,77.4 538.4,76.6 C535.9,75.8 532.5,76.1 528.4,77.9 C524.3,79.7 515.4,88.6 513.9,87.3 C512.4,86.0 518.2,75.6 519.6,70.3 C521.0,65.0 521.3,59.1 522.1,55.3 C522.9,51.5 520.8,48.9 524.6,47.7 C528.4,46.6 541.2,50.1 544.7,48.4 C548.2,46.7 544.7,40.8 545.3,37.7 C545.9,34.7 546.5,33.2 548.5,30.1 C550.5,27.0 554.2,21.7 557.3,18.8 C560.4,15.9 563.9,14.5 567.3,12.5 C570.6,10.5 574.0,6.9 577.4,6.9Z" fill="url(#skin3)"/><g clip-path="url(#mc3)"><g filter="url(#blur4)"><ellipse cx="549.0" cy="210.0" rx="13.0" ry="26.0" fill="#acacb2" opacity="0.28"/><ellipse cx="579.0" cy="67.0" rx="28.0" ry="22.0" fill="#ecc4c4" opacity="0.35"/><ellipse cx="577.0" cy="105.0" rx="40.0" ry="6.0" fill="#cfaeb0" opacity="0.15"/></g><path d="M35,96 C60,90 85,90 110,96" transform="translate(507,5)" fill="none" stroke="#c4a4aa" stroke-width="2.9" opacity="0.36" filter="url(#blur1)"/><path d="M32,108 C60,102 85,102 112,108" transform="translate(507,5)" fill="none" stroke="#c4a4aa" stroke-width="2.5" opacity="0.28" filter="url(#blur1)"/><path d="M85,210 C95,240 100,260 100,280" transform="translate(507,5)" fill="none" stroke="#c8b4b4" stroke-width="2.7" opacity="0.28" filter="url(#blur1)"/></g><path d="M545.0,48.4 C542.4,46.7 526.9,47.0 524.6,47.7 C522.3,48.4 522.6,53.0 522.1,55.3 C521.6,57.6 520.4,67.1 519.6,70.3 C518.8,73.5 513.0,86.5 513.9,87.3 C514.8,88.1 525.9,79.0 528.4,77.9 C530.9,76.8 536.7,76.1 538.4,76.6 C540.1,77.1 543.7,84.2 545.0,83.0 C546.3,81.8 551.0,68.5 551.0,65.0 C551.0,61.5 547.6,50.1 545.0,48.4Z" fill="url(#ear)"/><path d="M611.3,47.7 C613.2,45.7 622.1,45.0 623.9,45.2 C625.7,45.5 628.8,48.2 629.5,50.2 C630.2,52.2 630.5,62.8 630.8,65.3 C631.1,67.8 631.8,73.3 632.7,75.4 C633.6,77.5 639.2,85.5 639.6,86.7 C640.0,88.0 638.0,88.7 636.4,87.9 C634.8,87.1 625.9,79.8 623.9,79.1 C621.9,78.3 617.6,80.0 616.3,80.4 C615.0,80.8 612.1,84.5 611.0,83.0 C609.9,81.5 605.0,68.5 605.0,65.0 C605.0,61.5 609.4,49.7 611.3,47.7Z" fill="url(#ear)"/><ellipse cx="534.6" cy="66.0" rx="2.3" ry="2.6" fill="#1d3a3c"/><ellipse cx="614.5" cy="65.3" rx="1.8" ry="2.1" fill="#1d3a3c"/></g>
<text x="-1.5" y="26.6" font-size="36.5" text-anchor="start" >(A)</text>
<text x="-1.5" y="425.3" font-size="36.5" text-anchor="start" >(B)</text>
<text x="686.5" y="26.6" font-size="36.5" text-anchor="start" >(C)</text>
<text x="110.3" y="375.9" font-size="28.4" text-anchor="start" >Vehicle</text>
<text x="251.2" y="375.9" font-size="28.4" text-anchor="start" >eribulin</text>
<text x="378.8" y="375.9" font-size="28.4" text-anchor="start" >MK-2206</text>
<text x="533.6" y="375.9" font-size="28.4" text-anchor="start" >Combo</text>
<g stroke="#000" stroke-width="3" fill="none" stroke-linecap="butt">
<line x1="156.5" y1="458.5" x2="156.5" y2="879"/>
<line x1="155" y1="871.2" x2="518" y2="871.2"/>
<line x1="149" y1="871.2" x2="156.5" y2="871.2"/>
<line x1="149" y1="802.6" x2="156.5" y2="802.6"/>
<line x1="149" y1="734.0" x2="156.5" y2="734.0"/>
<line x1="149" y1="665.3" x2="156.5" y2="665.3"/>
<line x1="149" y1="596.7" x2="156.5" y2="596.7"/>
<line x1="149" y1="528.1" x2="156.5" y2="528.1"/>
<line x1="149" y1="459.4" x2="156.5" y2="459.4"/>
<line x1="156.3" y1="871" x2="156.3" y2="879"/>
<line x1="224.7" y1="871" x2="224.7" y2="879"/>
<line x1="293.1" y1="871" x2="293.1" y2="879"/>
<line x1="361.5" y1="871" x2="361.5" y2="879"/>
<line x1="429.9" y1="871" x2="429.9" y2="879"/>
<line x1="498.3" y1="871" x2="498.3" y2="879"/>
</g>
<text x="139.6" y="876.0" font-size="24.0" text-anchor="end" >0</text>
<text x="142.9" y="810.9" font-size="24.0" text-anchor="end" >500</text>
<text x="146.1" y="743.0" font-size="24.0" text-anchor="end" >1000</text>
<text x="146.1" y="671.5" font-size="24.0" text-anchor="end" >1500</text>
<text x="146.1" y="604.4" font-size="24.0" text-anchor="end" >2000</text>
<text x="146.1" y="535.4" font-size="24.0" text-anchor="end" >2500</text>
<text x="146.0" y="468.1" font-size="24.0" text-anchor="end" >3000</text>
<text x="156.3" y="909.0" font-size="24.0" text-anchor="middle" >0</text>
<text x="224.7" y="909.0" font-size="24.0" text-anchor="middle" >5</text>
<text x="296.4" y="909.0" font-size="24.0" text-anchor="middle" >10</text>
<text x="364.8" y="909.0" font-size="24.0" text-anchor="middle" >15</text>
<text x="432.0" y="909.0" font-size="24.0" text-anchor="middle" >20</text>
<text x="501.8" y="909.0" font-size="24.0" text-anchor="middle" >25</text>
<text x="366.0" y="947.5" font-size="27.9" text-anchor="middle" >Days after starting treatment</text>
<text transform="translate(75,662) rotate(-90)" font-size="28.2" text-anchor="middle">Tumor volume (mm<tspan font-size="19" dy="-7.8">3</tspan><tspan dy="7.8">)</tspan></text>
<line x1="293.1" y1="836.9" x2="293.1" y2="817.7" stroke="#000" stroke-width="3"/><line x1="288.6" y1="817.7" x2="297.6" y2="817.7" stroke="#000" stroke-width="3"/><line x1="361.5" y1="775.1" x2="361.5" y2="750.4" stroke="#000" stroke-width="3"/><line x1="357.0" y1="750.4" x2="366.0" y2="750.4" stroke="#000" stroke-width="3"/><line x1="429.9" y1="658.5" x2="429.9" y2="596.7" stroke="#000" stroke-width="3"/><line x1="425.4" y1="596.7" x2="434.4" y2="596.7" stroke="#000" stroke-width="3"/><line x1="498.3" y1="550.0" x2="498.3" y2="477.3" stroke="#000" stroke-width="3"/><line x1="493.8" y1="477.3" x2="502.8" y2="477.3" stroke="#000" stroke-width="3"/><line x1="361.5" y1="768.3" x2="361.5" y2="790.2" stroke="#000" stroke-width="3"/><line x1="357.0" y1="790.2" x2="366.0" y2="790.2" stroke="#000" stroke-width="3"/><line x1="429.9" y1="672.2" x2="429.9" y2="734.0" stroke="#000" stroke-width="3"/><line x1="425.4" y1="734.0" x2="434.4" y2="734.0" stroke="#000" stroke-width="3"/><line x1="498.3" y1="592.6" x2="498.3" y2="665.3" stroke="#000" stroke-width="3"/><line x1="493.8" y1="665.3" x2="502.8" y2="665.3" stroke="#000" stroke-width="3"/><line x1="361.5" y1="845.1" x2="361.5" y2="821.8" stroke="#000" stroke-width="3"/><line x1="357.0" y1="821.8" x2="366.0" y2="821.8" stroke="#000" stroke-width="3"/><line x1="429.9" y1="819.0" x2="429.9" y2="780.6" stroke="#000" stroke-width="3"/><line x1="425.4" y1="780.6" x2="434.4" y2="780.6" stroke="#000" stroke-width="3"/><line x1="498.3" y1="776.5" x2="498.3" y2="750.4" stroke="#000" stroke-width="3"/><line x1="493.8" y1="750.4" x2="502.8" y2="750.4" stroke="#000" stroke-width="3"/>
<polyline points="156.3,862.3 224.7,867.8 293.1,870.5 361.5,871.2 429.9,871.2 498.3,871.2" fill="none" stroke="#000" stroke-width="3" stroke-linejoin="round"/>
<polyline points="156.3,861.6 224.7,858.2 293.1,857.5 361.5,845.1 429.9,819.0 498.3,776.5" fill="none" stroke="#000" stroke-width="3" stroke-linejoin="round"/>
<polyline points="156.3,860.2 224.7,856.1 293.1,843.8 361.5,768.3 429.9,672.2 498.3,592.6" fill="none" stroke="#000" stroke-width="3" stroke-linejoin="round"/>
<polyline points="156.3,863.0 224.7,854.5 293.1,836.9 361.5,775.1 429.9,658.5 498.3,550.0" fill="none" stroke="#000" stroke-width="4" stroke-linejoin="round"/>
<circle cx="156.3" cy="862.3" r="9.5" fill="#000"/>
<circle cx="224.7" cy="867.8" r="9.5" fill="#000"/>
<circle cx="293.1" cy="870.5" r="9.5" fill="#000"/>
<circle cx="361.5" cy="871.2" r="9.5" fill="#000"/>
<circle cx="429.9" cy="871.2" r="9.5" fill="#000"/>
<circle cx="498.3" cy="871.2" r="9.5" fill="#000"/>
<polygon points="156.3,853.1 164.8,861.6 156.3,870.1 147.8,861.6" fill="#fff" stroke="#000" stroke-width="2.6"/>
<polygon points="224.7,849.7 233.2,858.2 224.7,866.7 216.2,858.2" fill="#fff" stroke="#000" stroke-width="2.6"/>
<polygon points="293.1,849.0 301.6,857.5 293.1,866.0 284.6,857.5" fill="#fff" stroke="#000" stroke-width="2.6"/>
<polygon points="361.5,836.6 370.0,845.1 361.5,853.6 353.0,845.1" fill="#fff" stroke="#000" stroke-width="2.6"/>
<polygon points="429.9,810.5 438.4,819.0 429.9,827.5 421.4,819.0" fill="#fff" stroke="#000" stroke-width="2.6"/>
<polygon points="498.3,768.0 506.8,776.5 498.3,785.0 489.8,776.5" fill="#fff" stroke="#000" stroke-width="2.6"/>
<rect x="148.8" y="855.5" width="15.0" height="15.0" fill="#000" stroke="#000" stroke-width="3"/>
<rect x="217.2" y="847.0" width="15.0" height="15.0" fill="#fff" stroke="#000" stroke-width="3"/>
<rect x="285.6" y="829.4" width="15.0" height="15.0" fill="#fff" stroke="#000" stroke-width="3"/>
<rect x="354.0" y="767.6" width="15.0" height="15.0" fill="#fff" stroke="#000" stroke-width="3"/>
<rect x="422.4" y="651.0" width="15.0" height="15.0" fill="#fff" stroke="#000" stroke-width="3"/>
<rect x="490.8" y="542.5" width="15.0" height="15.0" fill="#fff" stroke="#000" stroke-width="3"/>
<polygon points="156.3,849.7 165.8,866.7 146.8,866.7" fill="#000" stroke="#000" stroke-width="1" stroke-linejoin="round"/>
<polygon points="224.7,845.6 234.2,862.6 215.2,862.6" fill="#000" stroke="#000" stroke-width="1" stroke-linejoin="round"/>
<polygon points="293.1,833.2 302.6,850.2 283.6,850.2" fill="#000" stroke="#000" stroke-width="1" stroke-linejoin="round"/>
<polygon points="361.5,757.7 371.0,774.7 352.0,774.7" fill="#000" stroke="#000" stroke-width="1" stroke-linejoin="round"/>
<polygon points="429.9,661.6 439.4,678.6 420.4,678.6" fill="#000" stroke="#000" stroke-width="1" stroke-linejoin="round"/>
<polygon points="498.3,582.0 507.8,599.0 488.8,599.0" fill="#000" stroke="#000" stroke-width="1" stroke-linejoin="round"/>
<polyline points="526,594 536.8,594 536.8,774.5 526,774.5" fill="none" stroke="#000" stroke-width="2.8"/>
<polyline points="526,779.5 536.8,779.5 536.8,871.3 526,871.3" fill="none" stroke="#000" stroke-width="2.8"/>
<text x="548.7" y="697.0" font-size="29.5" text-anchor="middle" style="font-weight:normal">*</text>
<text x="549.2" y="833.2" font-size="29.5" text-anchor="middle" style="font-weight:normal">*</text>
<line x1="182.6" y1="465.6" x2="232.0" y2="465.6" stroke="#000" stroke-width="3"/><rect x="199.2" y="458.1" width="17.5" height="17.5" fill="#fff" stroke="#000" stroke-width="3"/><text x="249.2" y="475.3" font-size="28.4" text-anchor="start" >Vehicle</text><line x1="182.6" y1="497.0" x2="232.0" y2="497.0" stroke="#000" stroke-width="3"/><polygon points="208.0,483.1 220.0,495.3 208.0,507.6 196.0,495.3" fill="#fff" stroke="#000" stroke-width="2.6"/><text x="249.2" y="505.4" font-size="28.4" text-anchor="start" >eribulin</text><line x1="182.6" y1="529.0" x2="232.0" y2="529.0" stroke="#000" stroke-width="3"/><polygon points="206.6,517.0 219.1,538.7 194.1,538.7" fill="#000" stroke="#000" stroke-width="1" stroke-linejoin="round"/><text x="248.2" y="538.4" font-size="28.4" text-anchor="start" >MK-2206</text><line x1="182.6" y1="556.1" x2="232.0" y2="556.1" stroke="#000" stroke-width="3"/><circle cx="206.8" cy="556.4" r="10.1" fill="#000"/><text x="249.2" y="565.0" font-size="28.4" text-anchor="start" >Combo</text>
<g stroke="#000" stroke-width="3" fill="none">
<line x1="800.5" y1="52" x2="800.5" y2="508"/>
<line x1="799" y1="500.5" x2="1236" y2="500.5"/>
<line x1="793.5" y1="501.0" x2="800.5" y2="501.0"/>
<line x1="793.5" y1="441.1" x2="800.5" y2="441.1"/>
<line x1="793.5" y1="381.2" x2="800.5" y2="381.2"/>
<line x1="793.5" y1="321.2" x2="800.5" y2="321.2"/>
<line x1="793.5" y1="261.3" x2="800.5" y2="261.3"/>
<line x1="793.5" y1="201.4" x2="800.5" y2="201.4"/>
<line x1="793.5" y1="141.5" x2="800.5" y2="141.5"/>
<line x1="793.5" y1="81.6" x2="800.5" y2="81.6"/>
<line x1="801.0" y1="500" x2="801.0" y2="507.5"/>
<line x1="884.6" y1="500" x2="884.6" y2="507.5"/>
<line x1="968.2" y1="500" x2="968.2" y2="507.5"/>
<line x1="1051.8" y1="500" x2="1051.8" y2="507.5"/>
<line x1="1135.4" y1="500" x2="1135.4" y2="507.5"/>
<line x1="1219.0" y1="500" x2="1219.0" y2="507.5"/>
</g>
<text x="784.0" y="509.2" font-size="24.0" text-anchor="end" >10</text>
<text x="784.0" y="448.5" font-size="24.0" text-anchor="end" >12</text>
<text x="784.0" y="386.9" font-size="24.0" text-anchor="end" >14</text>
<text x="784.0" y="329.0" font-size="24.0" text-anchor="end" >16</text>
<text x="784.0" y="272.1" font-size="24.0" text-anchor="end" >18</text>
<text x="784.0" y="206.1" font-size="24.0" text-anchor="end" >20</text>
<text x="784.0" y="150.2" font-size="24.0" text-anchor="end" >22</text>
<text x="784.0" y="88.3" font-size="24.0" text-anchor="end" >24</text>
<text x="801.0" y="531.5" font-size="24.0" text-anchor="middle" >0</text>
<text x="884.6" y="531.5" font-size="24.0" text-anchor="middle" >5</text>
<text x="969.2" y="531.5" font-size="24.0" text-anchor="middle" >10</text>
<text x="1052.8" y="531.5" font-size="24.0" text-anchor="middle" >15</text>
<text x="1136.4" y="531.5" font-size="24.0" text-anchor="middle" >20</text>
<text x="1220.0" y="531.5" font-size="24.0" text-anchor="middle" >25</text>
<text x="1026.0" y="573.5" font-size="27.9" text-anchor="middle" >Days after starting treatment</text>
<text transform="translate(741.3,275) rotate(-90)" font-size="27.8" text-anchor="middle">Body weight (g)</text>
<line x1="800.5" y1="192.4" x2="800.5" y2="160.4" stroke="#000" stroke-width="3"/><line x1="800.5" y1="160.4" x2="805.0" y2="160.4" stroke="#000" stroke-width="3"/><line x1="800.5" y1="192.4" x2="800.5" y2="176.2" stroke="#000" stroke-width="3"/><line x1="800.5" y1="176.2" x2="805.0" y2="176.2" stroke="#000" stroke-width="3"/><line x1="800.5" y1="243.3" x2="800.5" y2="271.8" stroke="#000" stroke-width="3"/><line x1="800.5" y1="271.8" x2="805.0" y2="271.8" stroke="#000" stroke-width="3"/><line x1="884.6" y1="209.8" x2="884.6" y2="174.4" stroke="#000" stroke-width="3"/><line x1="880.1" y1="174.4" x2="889.1" y2="174.4" stroke="#000" stroke-width="3"/><line x1="884.6" y1="217.9" x2="884.6" y2="189.7" stroke="#000" stroke-width="3"/><line x1="880.1" y1="189.7" x2="889.1" y2="189.7" stroke="#000" stroke-width="3"/><line x1="884.6" y1="238.9" x2="884.6" y2="253.2" stroke="#000" stroke-width="3"/><line x1="880.1" y1="253.2" x2="889.1" y2="253.2" stroke="#000" stroke-width="3"/><line x1="884.6" y1="262.8" x2="884.6" y2="289.8" stroke="#000" stroke-width="3"/><line x1="880.1" y1="289.8" x2="889.1" y2="289.8" stroke="#000" stroke-width="3"/><line x1="968.2" y1="237.4" x2="968.2" y2="203.8" stroke="#000" stroke-width="3"/><line x1="963.7" y1="203.8" x2="972.7" y2="203.8" stroke="#000" stroke-width="3"/><line x1="968.2" y1="237.4" x2="968.2" y2="208.0" stroke="#000" stroke-width="3"/><line x1="963.7" y1="208.0" x2="972.7" y2="208.0" stroke="#000" stroke-width="3"/><line x1="968.2" y1="283.8" x2="968.2" y2="315.2" stroke="#000" stroke-width="3"/><line x1="963.7" y1="315.2" x2="972.7" y2="315.2" stroke="#000" stroke-width="3"/><line x1="1051.8" y1="225.4" x2="1051.8" y2="192.1" stroke="#000" stroke-width="3"/><line x1="1047.3" y1="192.1" x2="1056.3" y2="192.1" stroke="#000" stroke-width="3"/><line x1="1051.8" y1="285.9" x2="1051.8" y2="300.6" stroke="#000" stroke-width="3"/><line x1="1047.3" y1="300.6" x2="1056.3" y2="300.6" stroke="#000" stroke-width="3"/><line x1="1051.8" y1="265.5" x2="1051.8" y2="344.0" stroke="#000" stroke-width="3"/><line x1="1047.3" y1="344.0" x2="1056.3" y2="344.0" stroke="#000" stroke-width="3"/><line x1="1135.4" y1="216.7" x2="1135.4" y2="186.1" stroke="#000" stroke-width="3"/><line x1="1130.9" y1="186.1" x2="1139.9" y2="186.1" stroke="#000" stroke-width="3"/><line x1="1135.4" y1="288.6" x2="1135.4" y2="294.3" stroke="#000" stroke-width="3"/><line x1="1130.9" y1="294.3" x2="1139.9" y2="294.3" stroke="#000" stroke-width="3"/><line x1="1135.4" y1="278.1" x2="1135.4" y2="334.7" stroke="#000" stroke-width="3"/><line x1="1130.9" y1="334.7" x2="1139.9" y2="334.7" stroke="#000" stroke-width="3"/><line x1="1219.0" y1="207.4" x2="1219.0" y2="170.5" stroke="#000" stroke-width="3"/><line x1="1214.5" y1="170.5" x2="1223.5" y2="170.5" stroke="#000" stroke-width="3"/><line x1="1219.0" y1="298.8" x2="1219.0" y2="340.4" stroke="#000" stroke-width="3"/><line x1="1214.5" y1="340.4" x2="1223.5" y2="340.4" stroke="#000" stroke-width="3"/>
<polyline points="801.0,243.9 884.6,262.8 968.2,283.8 1051.8,285.9 1135.4,288.6 1219.0,298.8" fill="none" stroke="#000" stroke-width="3" stroke-linejoin="round"/>
<polyline points="801.0,227.5 884.6,238.9 968.2,237.4 1051.8,225.4 1135.4,216.7 1219.0,207.4" fill="none" stroke="#000" stroke-width="3" stroke-linejoin="round"/>
<polyline points="801.0,195.4 884.6,217.9 968.2,238.6 1051.8,245.4 1135.4,241.5 1219.0,256.2" fill="none" stroke="#000" stroke-width="3" stroke-linejoin="round"/>
<polyline points="801.0,191.8 884.6,209.8 968.2,237.4 1051.8,265.5 1135.4,278.1 1219.0,283.8" fill="none" stroke="#000" stroke-width="3" stroke-linejoin="round"/>
<polygon points="801.0,236.2 808.8,243.9 801.0,251.7 793.2,243.9" fill="#fff" stroke="#000" stroke-width="2.6"/>
<polygon points="884.6,255.1 892.4,262.8 884.6,270.6 876.9,262.8" fill="#fff" stroke="#000" stroke-width="2.6"/>
<polygon points="968.2,276.0 976.0,283.8 968.2,291.5 960.5,283.8" fill="#fff" stroke="#000" stroke-width="2.6"/>
<polygon points="1051.8,278.1 1059.5,285.9 1051.8,293.6 1044.0,285.9" fill="#fff" stroke="#000" stroke-width="2.6"/>
<polygon points="1135.4,280.8 1143.2,288.6 1135.4,296.3 1127.7,288.6" fill="#fff" stroke="#000" stroke-width="2.6"/>
<polygon points="1219.0,291.0 1226.8,298.8 1219.0,306.5 1211.2,298.8" fill="#fff" stroke="#000" stroke-width="2.6"/>
<rect x="793.5" y="187.9" width="15.0" height="15.0" fill="#fff" stroke="#000" stroke-width="3"/>
<rect x="877.1" y="210.4" width="15.0" height="15.0" fill="#fff" stroke="#000" stroke-width="3"/>
<rect x="960.7" y="231.1" width="15.0" height="15.0" fill="#000" stroke="#000" stroke-width="3"/>
<rect x="1044.3" y="237.9" width="15.0" height="15.0" fill="#fff" stroke="#000" stroke-width="3"/>
<rect x="1127.9" y="234.0" width="15.0" height="15.0" fill="#fff" stroke="#000" stroke-width="3"/>
<rect x="1211.5" y="248.7" width="15.0" height="15.0" fill="#fff" stroke="#000" stroke-width="3"/>
<polygon points="801.0,180.9 810.4,198.5 791.6,198.5" fill="#000" stroke="#000" stroke-width="1" stroke-linejoin="round"/>
<polygon points="884.6,198.9 894.0,216.5 875.2,216.5" fill="#000" stroke="#000" stroke-width="1" stroke-linejoin="round"/>
<polygon points="968.2,226.4 977.6,244.0 958.8,244.0" fill="#000" stroke="#000" stroke-width="1" stroke-linejoin="round"/>
<polygon points="1051.8,254.6 1061.2,272.2 1042.4,272.2" fill="#000" stroke="#000" stroke-width="1" stroke-linejoin="round"/>
<polygon points="1135.4,267.2 1144.8,284.8 1126.0,284.8" fill="#000" stroke="#000" stroke-width="1" stroke-linejoin="round"/>
<polygon points="1219.0,272.9 1228.4,290.5 1209.6,290.5" fill="#000" stroke="#000" stroke-width="1" stroke-linejoin="round"/>
<circle cx="801.0" cy="227.5" r="9.2" fill="#000"/>
<circle cx="884.6" cy="238.9" r="9.2" fill="#000"/>
<circle cx="968.2" cy="237.4" r="9.2" fill="#000"/>
<circle cx="1051.8" cy="225.4" r="9.2" fill="#000"/>
<circle cx="1135.4" cy="216.7" r="9.2" fill="#000"/>
<circle cx="1219.0" cy="207.4" r="9.2" fill="#000"/>
<line x1="1060.0" y1="36.6" x2="1110.0" y2="36.6" stroke="#000" stroke-width="3"/><rect x="1076.8" y="29.1" width="17.5" height="17.5" fill="#fff" stroke="#000" stroke-width="3"/><text x="1127.2" y="46.7" font-size="28.4" text-anchor="start" >Vehicle</text><line x1="1060.0" y1="68.0" x2="1110.0" y2="68.0" stroke="#000" stroke-width="3"/><polygon points="1085.5,54.0 1097.5,66.3 1085.5,78.5 1073.5,66.3" fill="#fff" stroke="#000" stroke-width="2.6"/><text x="1127.2" y="76.1" font-size="28.4" text-anchor="start" >eribulin</text><line x1="1060.0" y1="99.6" x2="1110.0" y2="99.6" stroke="#000" stroke-width="3"/><polygon points="1084.1,87.6 1096.6,109.3 1071.6,109.3" fill="#000" stroke="#000" stroke-width="1" stroke-linejoin="round"/><text x="1126.2" y="109.3" font-size="28.4" text-anchor="start" >MK-2206</text><line x1="1060.0" y1="126.3" x2="1110.0" y2="126.3" stroke="#000" stroke-width="3"/><circle cx="1084.3" cy="126.6" r="10.1" fill="#000"/><text x="1127.2" y="135.6" font-size="28.4" text-anchor="start" >Combo</text>
</svg></body></html>
